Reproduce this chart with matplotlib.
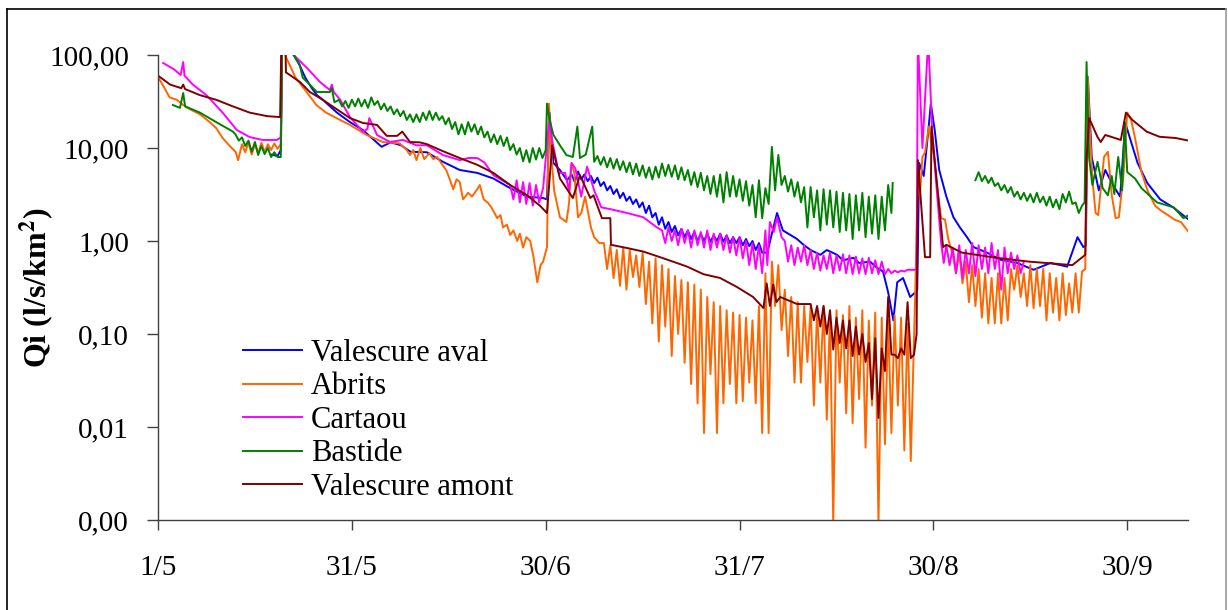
import numpy as np
import matplotlib
matplotlib.use("Agg")
import matplotlib.pyplot as plt
from matplotlib.lines import Line2D

# axe x : jours depuis le 1/5 ; axe y : Qi en l/s/km2 (echelle log)
tick_days = [0, 30, 60, 90, 120, 150]
tick_labels = ["1/5", "31/5", "30/6", "31/7", "30/8", "30/9"]
y_ticks = [0.001, 0.01, 0.1, 1, 10, 100]
y_labels = ["0,00", "0,01", "0,10", "1,00", "10,00", "100,00"]

# ---------------- Valescure aval ----------------
aval_p1_days = [17.5, 18.5, 19, 19.2, 21, 21.9, 22.8, 23.8, 24.6, 25.5,
                27.7, 29.7, 31.7, 34.6, 36, 37.6, 39.1, 41.6, 44.1, 46.7,
                49.4, 51.9, 54.5, 57.1, 59.6, 60.2, 60.6, 61.2, 62.2, 63.3]
aval_p1_q = [8.5, 8.2, 9.5, 150, 100, 78, 57, 44, 37, 33,
             24, 19, 15.6, 10.3, 11.5, 10.7, 9.1, 9.0, 7.1, 5.8,
             5.4, 4.7, 3.7, 3.0, 2.9, 2.8, 24, 6.9, 5.8, 4.5]
aval_z1_start = 64
aval_z1_hi = [5.2, 5.6, 5.2, 5.0, 4.8, 4.3, 3.9, 3.6, 3.3, 3.0,
              2.8, 2.6, 2.4, 2.0, 1.8, 1.6, 1.45, 1.35, 1.3, 1.25,
              1.2, 1.2, 1.15, 1.2, 1.15, 1.1, 1.1, 1.05, 1.0, 0.95]
aval_z1_lo = [4.3, 4.6, 4.4, 4.2, 3.9, 3.5, 3.2, 2.9, 2.7, 2.5,
              2.3, 2.0, 1.8, 1.5, 1.35, 1.25, 1.15, 1.1, 1.05, 1.0,
              1.0, 0.98, 1.0, 0.98, 0.95, 0.95, 0.9, 0.88, 0.8, 0.75]
aval_p2_days = [94.3, 95, 95.8, 96.7, 98.9, 99.9, 101, 102.5, 103.5, 105.1,
                106, 107.6, 108.5, 110.2, 111.2, 112.2, 113, 113.8, 114.4, 115.3,
                116.4, 117.2, 117.5, 117.8, 118.5, 119.2, 119.6, 120.2, 120.9, 122,
                123.1, 124.1, 125.2, 126.2, 128.3, 130.3, 133, 135.5, 138.1, 139.7,
                140.7, 142.3, 143.2, 143.6, 143.9, 144.5, 145.6, 146.6, 147.6, 148.9,
                149.7, 150.5, 151.6, 153.1, 155.1, 157.1, 159.5]
aval_p2_q = [0.75, 1.2, 2.0, 1.3, 1.05, 0.91, 0.8, 0.71, 0.8, 0.71,
             0.62, 0.66, 0.58, 0.6, 0.52, 0.47, 0.28, 0.14, 0.36, 0.40,
             0.25, 0.28, 0.3, 6.9, 5, 15, 30, 15.6, 5.8, 3,
             1.8, 1.4, 1.1, 0.86, 0.75, 0.63, 0.58, 0.49, 0.58, 0.55,
             0.53, 1.1, 0.86, 0.9, 58, 8, 3.5, 5.8, 4.2, 3.0,
             18.6, 12.2, 6.9, 4.2, 2.8, 2.3, 1.7]

# ---------------- Abrits ----------------
abrits_p1_days = [0, 0.7, 1.8, 2.9, 3.9, 5, 6.5, 8, 9, 10,
                  11, 12, 12.4, 13, 13.5, 14, 14.5, 15, 15.5, 16,
                  16.5, 17, 17.5, 18, 18.5, 19, 19.2, 19.8, 21.3, 23,
                  24.5, 26, 27.6, 29.7, 32.3, 34.8, 37.4, 38.5,
                  39, 39.5, 40, 40.6, 41.2, 42, 42.6, 43.2, 44, 44.6,
                  45.2, 45.7, 46.2, 46.7, 47.2, 48, 48.6, 49.4, 49.8, 50.4,
                  51, 51.6, 52.5, 53, 53.4, 54, 54.5, 55, 55.6, 56,
                  56.5, 57, 57.6, 58.1, 58.7, 59.2, 59.6, 60.2,
                  60.5, 60.9, 61.3, 62.2, 63.2, 63.6, 64, 64.4, 65, 65.5,
                  66.1, 67, 67.5, 68.3]
abrits_p1_q = [58, 48, 35, 33, 29, 26, 23, 19, 16.4, 12.8,
               10.7, 9.1, 7.4, 11, 9, 11.5, 8.5, 11, 8.8, 11.4,
               9, 11, 9.5, 11.2, 9.8, 11, 150, 95, 57, 40,
               29, 24, 21, 17.7, 13.8, 11.6, 11.2, 9.5,
               8.4, 9.5, 7.4, 10, 7.6, 8.8, 7.6, 8, 6.6, 5.8,
               4.5, 3.6, 4.6, 4.3, 2.8, 3.3, 3.0, 3.6, 4.0, 2.8,
               2.6, 2.3, 1.76, 1.9, 1.4, 1.5, 1.16, 1.3, 1.0, 1.2,
               0.85, 1.1, 1.0, 0.68, 0.36, 0.55, 0.6, 0.86,
               30, 8, 3.5, 1.8, 1.6, 2.5, 6.9, 5.5, 1.8, 2.0,
               3.0, 1.4, 1.1, 0.95]
abrits_z1_start = 69
abrits_z1_hi = [0.95, 0.9, 0.8, 0.85, 0.8, 0.7, 0.75, 0.6, 0.65, 0.55,
                0.5, 0.42, 0.38, 0.36, 0.34, 0.3, 0.25, 0.22, 0.2, 0.18,
                0.17, 0.16, 0.15, 0.14, 0.2, 0.45, 0.6, 0.55, 0.3, 0.25,
                0.22, 0.2, 0.2, 0.18, 0.2, 0.17, 0.18, 0.16, 0.2, 0.15,
                0.18, 0.14, 0.17, 0.15, 0.14, 0.16, 0.15, 0.13]
abrits_z1_lo = [0.5, 0.4, 0.33, 0.3, 0.41, 0.32, 0.21, 0.13, 0.083, 0.12,
                0.058, 0.1, 0.049, 0.029, 0.018, 0.0086, 0.037, 0.0086, 0.018, 0.029,
                0.018, 0.019, 0.03, 0.018, 0.0086, 0.0086, 0.2, 0.11, 0.058, 0.03,
                0.03, 0.05, 0.017, 0.03, 0.012, 0.0009, 0.03, 0.014, 0.011, 0.02,
                0.006, 0.017, 0.0009, 0.0065, 0.0086, 0.017, 0.0056, 0.0043]
abrits_p2_days = [117.2, 117.6, 117.9, 118.3, 118.7, 119.3, 119.7, 120.1, 120.6, 121.2,
                  121.8, 122.3]
abrits_p2_q = [0.3, 5, 3, 8, 9, 17, 11.6, 8, 3.7, 1.76, 1.7, 1.05]
abrits_z2_start = 123
abrits_z2_hi = [0.7, 0.75, 0.6, 0.55, 0.5, 0.45, 0.4, 0.45, 0.4, 0.5,
                0.55, 0.45, 0.55, 0.5, 0.5, 0.45, 0.4, 0.45, 0.35, 0.45]
abrits_z2_lo = [0.45, 0.35, 0.22, 0.2, 0.15, 0.13, 0.13, 0.13, 0.14, 0.3,
                0.25, 0.2, 0.19, 0.2, 0.14, 0.17, 0.14, 0.16, 0.17, 0.17]
abrits_p3_days = [143, 143.5, 143.9, 144.2, 144.6, 145.1, 145.5, 146.4, 147, 147.6,
                  148.2, 148.7, 149.4, 150, 150.6, 151.2, 152.2, 153.2, 154.3, 155.3,
                  156.3, 157.3, 158.3, 159.5]
abrits_p3_q = [0.47, 0.5, 57, 16.4, 4.7, 2.0, 1.9, 8, 9.1, 3.1,
               1.76, 1.8, 5, 24, 20, 12.8, 5.5, 3.4, 2.4, 2.1,
               1.9, 1.7, 1.6, 1.25]

# ---------------- Cartaou ----------------
cartaou_p1_days = [0.8, 2.5, 3.5, 3.9, 4.1, 5.4, 7.5, 10, 12.2, 14.2,
                   16.2, 18.4, 19, 19.2, 21, 23.1, 25.1, 26.6, 26.9, 27.2,
                   28.2, 29.7, 31.7, 32.4, 32.7, 33.9, 35.9, 37.9, 40, 41.6,
                   44.1, 46.7, 48, 49.4, 50.5, 51.9, 54.5, 55, 55.5, 56,
                   56.5, 57, 57.5, 58, 58.5, 59, 59.6, 60.5, 61, 62,
                   63, 63.6, 64, 64.6, 65.5, 66.4, 67.5, 68.6, 70, 72.6,
                   75.1, 77.2]
cartaou_p1_q = [82, 70, 61, 84, 60, 48, 37, 24, 15.6, 13.1,
                12.2, 12.2, 13, 150, 100, 72, 51, 42, 48, 40,
                33, 21.5, 15, 16, 21, 13.8, 11.6, 12.2, 10.7, 10.7,
                8.4, 7.4, 7.8, 7.8, 7.0, 5.1, 4.0, 2.8, 4.5, 2.6,
                4.3, 2.5, 4.2, 2.4, 4.0, 2.6, 3.7, 19, 12, 5.4,
                5.4, 3.5, 6.9, 6.0, 3.0, 6.3, 3.5, 2.3, 2.2, 2.0,
                1.8, 1.4]
cartaou_z1_start = 78
cartaou_z1_hi = [1.3, 1.4, 1.3, 1.35, 1.3, 1.3, 1.25, 1.3, 1.2, 1.2,
                 1.15, 1.1, 1.1, 1.0, 0.95, 0.9]
cartaou_z1_lo = [0.95, 1.0, 0.9, 0.95, 0.85, 0.9, 0.85, 0.8, 0.85, 0.8,
                 0.75, 0.7, 0.65, 0.55, 0.5, 0.45]
cartaou_p2_days = [94, 94.3, 94.7, 95.3, 95.8, 96.5]
cartaou_p2_q = [1.3, 0.55, 1.6, 1.25, 1.8, 1.1]
cartaou_z2_start = 97
cartaou_z2_hi = [1.0, 0.9, 0.85, 0.9, 0.8, 0.75, 0.7, 0.75, 0.7, 0.72,
                 0.7, 0.68, 0.65, 0.66, 0.62, 0.6, 0.5, 0.48, 0.48, 0.49]
cartaou_z2_lo = [0.6, 0.55, 0.6, 0.55, 0.5, 0.48, 0.5, 0.45, 0.48, 0.45,
                 0.44, 0.45, 0.44, 0.45, 0.44, 0.44, 0.45, 0.46, 0.47, 0.49]
cartaou_p3_days = [117.4, 117.6, 118.3, 119.2, 119.8, 120.6, 121.2, 121.6]
cartaou_p3_q = [0.49, 150, 10, 150, 15.6, 3.0, 0.95, 0.58]
cartaou_z3_start = 122
cartaou_z3_hi = [0.9, 0.85, 0.9, 0.8, 0.95, 0.9, 0.85, 0.95, 0.8, 0.85, 0.75, 0.7]
cartaou_z3_lo = [0.55, 0.45, 0.4, 0.45, 0.42, 0.5, 0.45, 0.5, 0.3, 0.45, 0.5, 0.45]
cartaou_p4_days = [134]
cartaou_p4_q = [0.6]

# ---------------- Bastide ----------------
bastide_p1_days = [2.3, 3.4, 3.9, 4.2, 6.5, 9, 11.6, 12, 12.5, 13,
                   13.5, 14, 14.5, 15, 15.5, 16, 16.5, 17, 17.5, 18,
                   18.5, 19, 19.1, 19.2, 21, 21.9, 22.4, 23.5, 24.6, 26.6,
                   26.9, 27.3]
bastide_p1_q = [29, 27, 39, 28, 24, 19, 15, 14, 12, 13,
                10.5, 12, 9.1, 11.6, 8.4, 10.5, 8.6, 10, 8.0, 9.0,
                8.0, 8.0, 20, 150, 100, 80, 57, 48, 40, 40,
                44, 31]
bastide_z1_start = 28
bastide_z1_hi = [33, 32, 33, 34, 33, 35, 32, 30, 28, 26,
                 25, 23, 23, 24, 25, 24, 22, 21, 19, 18,
                 19, 18, 17, 15, 14, 13.5, 13, 11, 10, 9.5,
                 10, 10]
bastide_z1_lo = [28, 27, 28, 28, 27, 29, 26, 25, 23, 22,
                 20, 19, 19, 20, 20, 20, 18, 16, 14, 14,
                 15, 14, 13, 11.5, 11, 10.5, 9.5, 8.5, 7.2, 7.0,
                 7.5, 7.8]
bastide_p2_days = [60, 60.2, 60.6, 61.2, 62.2, 63.2, 64.2, 64.9, 65.3, 66.2, 67.2, 67.5]
bastide_p2_q = [9.5, 30, 20, 13.8, 10.7, 8.4, 8.0, 17, 7.8, 8.5, 17, 7.1]
bastide_z2_start = 68
bastide_z2_hi = [8.2, 8.0, 7.8, 7.6, 7.2, 7.0, 6.8, 6.5, 6.2, 6.3,
                 6.8, 6.6, 6.5, 6.2, 5.8, 5.5, 5.4, 5.0, 5.0, 5.2,
                 5.5, 5.0, 4.6, 4.4, 4.0, 4.5, 3.7, 10.3, 8.4, 5.0,
                 4.6, 4.3, 3.8, 3.8, 3.5, 3.6, 3.5, 3.4, 3.3, 3.2,
                 3.1, 3.3, 3.0, 3.1, 3.0, 4.0]
bastide_z2_lo = [6.6, 6.2, 6.0, 5.8, 5.5, 5.2, 5.0, 4.8, 4.6, 4.8,
                 5.0, 4.9, 4.6, 4.5, 4.0, 3.8, 3.5, 3.2, 3.0, 2.6,
                 3.0, 3.0, 2.7, 2.4, 1.8, 1.76, 2.5, 3.5, 4.0, 3.4,
                 3.0, 2.6, 1.4, 1.8, 1.3, 1.5, 1.4, 1.25, 1.3, 1.05,
                 1.3, 1.1, 1.2, 1.05, 1.3, 2.0]
bastide_p3_days = [113.7]
bastide_p3_q = [4.2]
# reprise apres la lacune
bastide_p4_days = [126.5, 127, 127.5, 128, 128.5, 129, 129.5, 130, 130.5, 131,
                   131.5, 132, 132.5, 133, 133.5, 134, 134.5, 135, 135.5, 136,
                   136.5, 137, 137.5, 138, 138.5, 139, 139.5, 140, 140.5, 141,
                   141.5, 142, 142.5, 143, 143.4, 143.7, 144.1, 144.6, 145.4, 146.2,
                   147, 147.6, 148, 148.6, 149.2, 149.6, 150, 151.2, 152.2, 154.6,
                   157.2, 158.7, 159.5]
bastide_p4_q = [4.5, 5.5, 4.4, 5.0, 4.2, 4.8, 3.9, 4.2, 3.5, 4.0,
                3.3, 3.8, 3.0, 3.4, 2.8, 3.3, 2.7, 3.2, 2.6, 3.3,
                2.6, 3.0, 2.4, 3.0, 2.3, 2.8, 2.2, 3.2, 2.6, 3.4,
                2.5, 2.6, 2.0, 2.4, 2.6, 84, 7.8, 4.0, 7.1, 3.7,
                3.1, 5, 3.2, 8, 3.5, 19, 5.5, 4.7, 3.7, 2.6,
                2.3, 1.76, 1.9]

# ---------------- Valescure amont ----------------
amont_p1_days = [0, 1.9, 3.6, 3.9, 4.2, 6.5, 9, 11.6, 14.2, 16.9,
                 18.9, 19.1, 19.7, 19.8, 20.4, 22, 23.5, 25.5, 27.7, 29.7,
                 31.7, 33.9, 35.4, 37, 37.8, 39, 40.5, 41.6, 44, 46.7,
                 49.4, 51.9, 54.5, 57.1, 59.1, 60.2, 61, 62.2, 64.2, 65.3,
                 66.9, 67.4, 68.7, 70, 70.1, 72.6, 75.1, 77.7, 80.3, 81.9,
                 84.4, 87, 89.6, 92.1, 93.7, 94.2, 94.7, 95.2, 95.7, 96.3,
                 98.9, 100.5]
amont_p1_q = [60, 48, 44, 48, 43, 37, 33, 28, 24, 22,
              21.5, 150, 150, 65, 61, 51, 40, 33, 26, 21,
              18.6, 17.7, 13.5, 13.5, 15, 11.6, 11.5, 11, 9.3, 7.8,
              6.6, 5.4, 4.0, 3.1, 2.4, 2.0, 10.7, 4.7, 2.9, 5.1,
              2.9, 3.1, 1.76, 1.76, 0.91, 0.84, 0.77, 0.67, 0.58, 0.53,
              0.44, 0.40, 0.32, 0.25, 0.19, 0.35, 0.2, 0.34, 0.22, 0.25,
              0.21, 0.21]
amont_z1_start = 101
amont_z1_hi = [0.21, 0.2, 0.2, 0.18, 0.15, 0.14, 0.14, 0.12, 0.1, 0.08,
               0.09, 0.07, 0.25, 0.06, 0.07, 0.22]
amont_z1_lo = [0.14, 0.12, 0.1, 0.068, 0.08, 0.07, 0.058, 0.06, 0.05, 0.02,
               0.0125, 0.04, 0.06, 0.055, 0.06, 0.055]
amont_p2_days = [117, 117.4, 117.6, 118.7, 119.5, 119.7, 121.5, 122, 124.4, 129.7,
                 134.8, 137.5, 141.5, 143.5, 143.7, 144.1, 145.4, 145.9, 146.6, 147.5,
                 149, 149.8, 150.8, 153, 155, 157.5, 159.5]
amont_p2_q = [0.06, 0.1, 7.4, 0.67, 0.67, 17, 0.86, 0.91, 0.75, 0.66,
              0.6, 0.58, 0.55, 0.71, 7.5, 21, 13.1, 11.6, 13.8, 13.2,
              12.2, 24, 20, 15, 13.2, 12.8, 12]


def zigzag(start, hi, lo):
    # mini / maxi journaliers -> trace en dents de scie
    d, q = [], []
    for i in range(len(hi)):
        d += [start + i, start + i + 0.5]
        q += [hi[i], lo[i]]
    return d, q


def join(*parts):
    d, q = [], []
    for pd_, pq in parts:
        d += list(pd_)
        q += list(pq)
    return d, q


aval = join((aval_p1_days, aval_p1_q),
            zigzag(aval_z1_start, aval_z1_hi, aval_z1_lo),
            (aval_p2_days, aval_p2_q))
abrits = join((abrits_p1_days, abrits_p1_q),
              zigzag(abrits_z1_start, abrits_z1_hi, abrits_z1_lo),
              (abrits_p2_days, abrits_p2_q),
              zigzag(abrits_z2_start, abrits_z2_hi, abrits_z2_lo),
              (abrits_p3_days, abrits_p3_q))
cartaou = join((cartaou_p1_days, cartaou_p1_q),
               zigzag(cartaou_z1_start, cartaou_z1_hi, cartaou_z1_lo),
               (cartaou_p2_days, cartaou_p2_q),
               zigzag(cartaou_z2_start, cartaou_z2_hi, cartaou_z2_lo),
               (cartaou_p3_days, cartaou_p3_q),
               zigzag(cartaou_z3_start, cartaou_z3_hi, cartaou_z3_lo),
               (cartaou_p4_days, cartaou_p4_q))
bastide_a = join((bastide_p1_days, bastide_p1_q),
                 zigzag(bastide_z1_start, bastide_z1_hi, bastide_z1_lo),
                 (bastide_p2_days, bastide_p2_q),
                 zigzag(bastide_z2_start, bastide_z2_hi, bastide_z2_lo),
                 (bastide_p3_days, bastide_p3_q))
bastide_b = (bastide_p4_days, bastide_p4_q)
amont = join((amont_p1_days, amont_p1_q),
             zigzag(amont_z1_start, amont_z1_hi, amont_z1_lo),
             (amont_p2_days, amont_p2_q))

plt.rcParams["font.family"] = ["Liberation Serif", "DejaVu Serif"]
plt.rcParams["mathtext.fontset"] = "stix"

fig = plt.figure(figsize=(12.28, 6.10), dpi=100)
ax = fig.add_axes([158 / 1228, 90 / 610, 1030 / 1228, 465 / 610])

lw = 1.4
ax.plot(*aval, color="#0000FF", lw=lw, label="Valescure aval")
ax.plot(*abrits, color="#FF6600", lw=lw, label="Abrits")
ax.plot(*cartaou, color="#FF00FF", lw=lw, label="Cartaou")
ax.plot(*bastide_a, color="#008000", lw=lw, label="Bastide")
ax.plot(*bastide_b, color="#008000", lw=lw)
ax.plot(*amont, color="#800000", lw=lw, label="Valescure amont")

ax.set_yscale("log")
ax.set_ylim(0.001, 100)
ax.set_xlim(0, 159.4)
ax.set_yticks(y_ticks)
ax.set_yticklabels(y_labels)
ax.yaxis.set_minor_locator(matplotlib.ticker.NullLocator())
ax.set_xticks(tick_days)
ax.set_xticklabels(tick_labels)

for s in ["top", "right"]:
    ax.spines[s].set_visible(False)
for s in ["left", "bottom"]:
    ax.spines[s].set_color("#404040")
    ax.spines[s].set_linewidth(1.0)

ax.tick_params(axis="y", length=8, width=1, color="#404040", pad=13, labelsize=21)
ax.tick_params(axis="x", length=7, width=1, color="#404040", pad=18, labelsize=21)

ax.set_ylabel(r"Qi (l/s/km$^{\mathbf{2}}$)", fontsize=23, fontweight="bold")
ax.yaxis.set_label_coords(-0.098, 0.5)

ax.legend(loc="upper left", bbox_to_anchor=(0.083, 0.39), frameon=False,
          fontsize=22, handlelength=1.9, handletextpad=0.3, labelspacing=0.15,
          borderpad=0, borderaxespad=0)

# cadre exterieur
fig.add_artist(Line2D([7 / 1228, 7 / 1228], [0, 1 - 9 / 610], color="black", lw=1.2))
fig.add_artist(Line2D([7 / 1228, 1226 / 1228], [1 - 9 / 610, 1 - 9 / 610], color="black", lw=1.2))
fig.add_artist(Line2D([1226 / 1228, 1226 / 1228], [0, 1 - 9 / 610], color="#999999", lw=1.2))

fig.savefig("out.png", dpi=100)
